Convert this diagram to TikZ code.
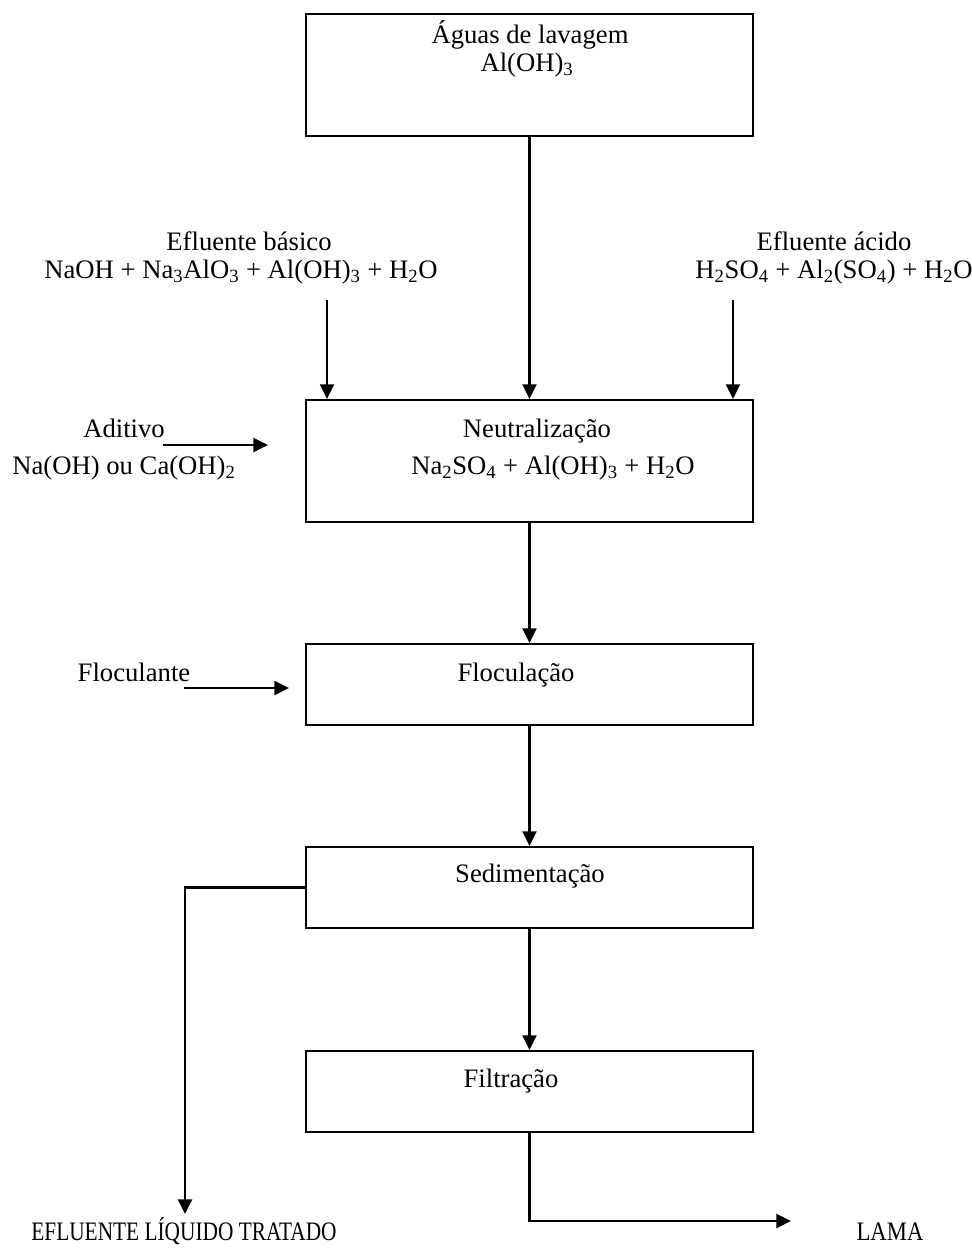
\documentclass[tikz,border=0pt]{standalone}
\usepackage{fontspec}
\setmainfont{Liberation Serif}
\usepackage{graphicx}
\usetikzlibrary{arrows.meta}
\tikzset{
  txt/.style={inner sep=0pt, anchor=base, font=\fontsize{20}{24}\selectfont},
  procbox/.style={draw, line width=1.6pt, inner sep=0pt, minimum width=335.25pt},
  arr/.style={line width=1.8pt, -{Triangle[length=11pt,width=10.5pt]}},
  ln/.style={line width=1.8pt}
}
\begin{document}
\begin{tikzpicture}[x=0.75pt, y=-0.75pt]
\useasboundingbox (0,0) rectangle (971,1249);
% boxes
\node[procbox, minimum height=91.5pt] (top) at (529.5,75) {};
\node[procbox, minimum height=91.5pt] (neut) at (529.5,461) {};
\node[procbox, minimum height=60.75pt] (floc) at (529.5,684.5) {};
\node[procbox, minimum height=60.75pt] (sed) at (529.5,887.5) {};
\node[procbox, minimum height=60.75pt] (filt) at (529.5,1091.5) {};
% texts
\node[txt] (top1) at (530,43) {Águas de lavagem};
\node[txt] (top2) at (527,71) {Al(OH)\textsubscript{3}};
\node[txt] (b1) at (249,250) {Efluente básico};
\node[txt] (b2) at (241,278) {NaOH + Na\textsubscript{3}AlO\textsubscript{3} + Al(OH)\textsubscript{3} + H\textsubscript{2}O};
\node[txt] (a1) at (834,250) {Efluente ácido};
\node[txt] (a2) at (834,278) {H\textsubscript{2}SO\textsubscript{4} + Al\textsubscript{2}(SO\textsubscript{4}) + H\textsubscript{2}O};
\node[txt] (ad1) at (124,437) {Aditivo};
\node[txt] (ad2) at (124,474) {Na(OH) ou Ca(OH)\textsubscript{2}};
\node[txt] (n1) at (537,437) {Neutralização};
\node[txt] (n2) at (553,474) {Na\textsubscript{2}SO\textsubscript{4} + Al(OH)\textsubscript{3} + H\textsubscript{2}O};
\node[txt] (fl1) at (134,681) {Floculante};
\node[txt] (fc1) at (516,681) {Floculação};
\node[txt] (sd1) at (530,882) {Sedimentação};
\node[txt] (ft1) at (511,1087) {Filtração};
\node[txt] (eff) at (184,1240) {\scalebox{0.8}[1]{EFLUENTE LÍQUIDO TRATADO}};
\node[txt] (lama) at (890,1240) {\scalebox{0.85}[1]{LAMA}};
% coordinates
\coordinate (bs) at (327,300);
\coordinate (as) at (733,300);
\coordinate (ads) at (163,445);
\coordinate (ade) at (268,445);
\coordinate (fls) at (184,688);
\coordinate (fle) at (289,688);
\coordinate (efftip) at (185,1214);
\coordinate (lamatip) at (791,1221);
% connectors
\draw[arr] (top.south) -- (neut.north);
\draw[arr] (bs) -- (bs |- neut.north);
\draw[arr] (as) -- (as |- neut.north);
\draw[arr] (ads) -- (ade);
\draw[arr] (neut.south) -- (floc.north);
\draw[arr] (fls) -- (fle);
\draw[arr] (floc.south) -- (sed.north);
\draw[arr] (sed.west) -| (efftip);
\draw[arr] (sed.south) -- (filt.north);
\draw[arr] (filt.south) |- (lamatip);
\end{tikzpicture}
\end{document}
